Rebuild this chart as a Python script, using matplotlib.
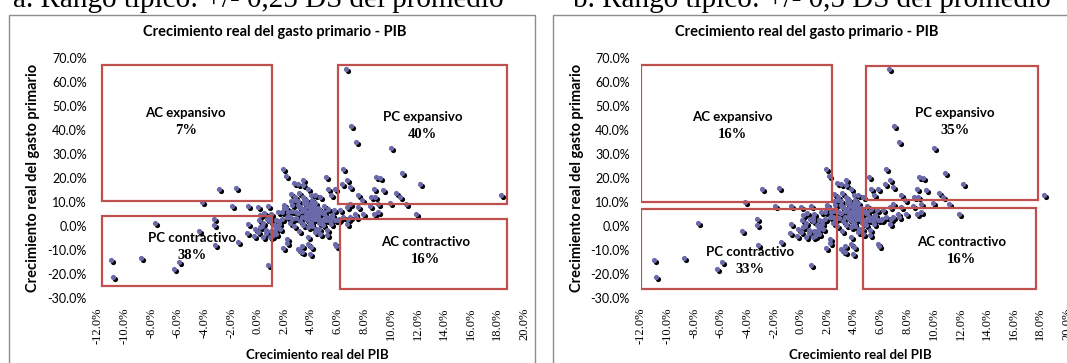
import matplotlib.pyplot as plt
from matplotlib.patches import Rectangle
from matplotlib.ticker import FuncFormatter
from matplotlib.transforms import offset_copy

# crecimiento real del PIB (%) y del gasto primario (%), un punto por pais-año
pib = [
    -11.0, -10.9, -8.8, -7.7, -6.3, -5.9, -4.4, -4.2, -3.3, -3.3,
    -3.2, -2.9, -1.6, -1.9, -1.5, -0.7, 0.0, 0.8, -0.7, -0.8,
    -0.3, 0.4, 0.1, 0.8, 1.2, 1.9, 2.1, 1.9, 2.2, 0.3,
    0.6, 0.9, 1.1, 1.4, 1.4, 1.4, 0.2, 0.5, 1.0, 1.6,
    1.7, 1.0, 0.6, -0.2, 0.9, 1.2, 0.0, 0.7, 1.3, 0.4,
    1.8, 1.5, 0.9, 0.2,
    # parte derecha
    6.6, 7.0, 7.4, 10.0, 10.8, 12.2, 18.3, 6.4, 6.7, 5.1,
    8.9, 9.2, 8.7, 9.4, 7.5, 7.8, 10.4, 10.7, 11.1, 9.9,
    11.9, 6.9, 5.8, 3.9, 2.7, 3.0, 3.4, 3.4, 3.8, 4.3,
    4.7, 5.3, 5.5, 5.8, 6.3, 6.9, 8.5, 8.8, 9.0, 7.9,
    8.4, 8.7, 9.0, 7.5, 6.7, 6.2, 6.4, 6.9, 6.7, 7.4,
    5.8, 5.4, 3.2, 2.2, 3.3, 3.8, 4.7, 5.2, 3.0, 3.3,
    4.0, 5.9, 3.8, 7.3, 6.8, 5.7, 5.0, 5.2,
    # nucleo denso
    2.3, 2.5, 2.8, 3.0, 3.1, 3.3, 3.5, 3.6, 3.7, 3.9,
    4.0, 4.1, 4.2, 4.3, 4.4, 4.5, 4.6, 4.8, 4.9, 5.0,
    2.4, 2.6, 2.9, 3.2, 3.4, 3.6, 3.8, 4.0, 4.1, 4.3,
    4.4, 4.6, 4.7, 4.9, 5.1, 2.0, 2.2, 2.5, 2.7, 3.1,
    3.5, 3.9, 4.2, 4.5, 4.8, 5.3, 5.6, 6.0, 3.6, 3.9,
    4.1, 4.3, 4.5, 3.7, 4.0, 4.2, 4.4, 3.4, 3.1, 2.8,
    2.0, 2.4, 1.8, 1.6, 2.6, 3.0, 4.6, 5.0, 5.5, 6.1,
    3.9, 4.1, 4.3, 4.0, 4.2, 3.8, 4.4, 4.6, 3.5, 3.7,
    4.0, 4.2, 3.3, 2.9, 4.7, 5.1, 3.2, 2.6, 4.8, 3.6,
    4.1, 3.9, 4.3, 2.3, 5.4, 4.5, 3.4, 2.1, 5.6, 3.0,
]
gasto = [
    -14.1, -21.3, -13.2, 1.4, -17.8, -14.8, -2.1, 10.0, 2.9, 0.6,
    -7.8, 15.5, 15.8, 8.4, -6.7, 8.4, 8.0, 8.4, 1.0, -2.9,
    -4.2, -4.6, 2.7, -16.4, -3.2, 24.0, 21.0, -9.2, -7.0, 0.0,
    -1.5, 2.0, -4.0, 2.4, -0.4, -3.2, 4.5, 5.5, -2.0, 1.0,
    -1.0, 5.0, -3.0, -1.0, 3.5, 0.5, -2.5, 3.0, -1.8, 1.5,
    3.0, 6.0, -4.5, -0.5,
    65.4, 41.7, 35.1, 32.4, 22.2, 17.4, 12.8, 24.0, 19.4, 20.5,
    20.5, 20.0, 15.6, 15.2, 12.8, 10.8, 13.8, 12.1, 9.1, 9.6,
    5.2, 9.1, -7.4, -11.6, 18.0, 17.5, 19.4, 17.1, 15.6, 12.8,
    12.1, 15.6, 12.8, 15.6, 17.7, 16.3, 12.1, 12.1, 9.4, 4.9,
    8.2, 4.9, 5.9, 8.0, 8.0, 6.6, 3.8, 3.8, 1.0, 3.8,
    2.4, 3.8, -10.2, -5.3, -8.1, -7.4, -3.2, -3.9, -9.5, -10.9,
    -8.8, -8.1, -4.6, 5.2, 3.1, 6.6, 5.9, -1.8,
    5.9, 13.6, 12.1, 10.5, 8.0, 6.5, 9.5, 11.0, 4.0, 7.5,
    12.8, 5.0, 9.0, 6.0, 3.0, 4.5, 7.0, 2.0, 5.5, 8.5,
    1.5, 9.0, 3.5, 2.0, 0.5, 3.0, -0.5, 1.0, 10.0, 3.5,
    -1.0, 1.5, 6.5, 0.5, 2.5, 7.5, 4.0, 10.5, 0.0, -2.0,
    11.5, 6.0, 8.0, 4.5, 2.5, 7.0, 4.0, 2.5, 5.0, 6.5,
    0.0, -2.5, -1.5, 8.5, 9.5, 3.0, 7.0, 1.0, 14.0, 11.0,
    9.0, 4.0, 6.0, 2.0, 6.5, 9.0, -1.0, 5.5, 1.0, 3.0,
    5.0, 3.5, 6.0, 8.5, 5.5, 2.5, 4.5, 3.0, 7.0, 6.0,
    1.5, 7.5, 4.0, 6.0, 6.5, 4.0, 8.0, 3.0, 1.0, 10.0,
    11.0, 1.0, 9.5, 4.0, 2.0, 7.5, 12.0, 7.5, 4.5, 5.5,
]

x_ticks = [-12, -10, -8, -6, -4, -2, 0, 2, 4, 6, 8, 10, 12, 14, 16, 18, 20]
y_ticks = [-30, -20, -10, 0, 10, 20, 30, 40, 50, 60, 70]

paneles = ["a. Rango típico: +/- 0,25 DS del promedio",
           "b. Rango típico: +/- 0,5 DS del promedio"]

# cuadrantes: (nombre, porcentaje, x0, x1, y0, y1, x texto, y texto)
cuadros_a = [
    ("AC expansivo", "7%", -11.7, 1.05, 10.5, 67.4, -5.4, 47.4),
    ("PC contractivo", "38%", -11.7, 1.05, -24.8, 4.2, -4.9, -4.9),
    ("PC expansivo", "40%", 6.05, 18.7, 9.4, 67.4, 12.4, 45.4),
    ("AC contractivo", "16%", 6.2, 18.7, -26.2, 2.8, 12.6, -6.7),
]
cuadros_b = [
    ("AC expansivo", "16%", -12.0, 2.35, 10.0, 67.2, -5.1, 45.4),
    ("PC contractivo", "33%", -12.0, 2.7, -26.2, 7.0, -3.8, -10.9),
    ("PC expansivo", "35%", 4.9, 17.8, 11.0, 66.9, 11.6, 47.3),
    ("AC contractivo", "16%", 4.7, 17.7, -26.2, 7.5, 12.1, -6.7),
]

SANS = ["Lato", "DejaVu Sans"]
SERIF = ["Liberation Serif", "DejaVu Serif"]
ROJO = "#c0504d"
PUNTO = "#6a6aaa"

W, H = 1067, 363
fig = plt.figure(figsize=(W / 100, H / 100), dpi=100)

# (borde izq, borde der, eje izq px, centro titulo, centro ylabel, centro xlabel, x caption)
layout = [
    (9, 535, 98, 275, 33, 317, 13),
    (553, 1200, 641, 807, 577, 860, 573),
]

for k, (cuadros, lay) in enumerate(zip([cuadros_a, cuadros_b], layout)):
    b0, b1, ax_left, t_cx, yl_cx, xl_cx, cap_x = lay

    fig.patches.append(Rectangle((b0 / W, -0.2), (b1 - b0) / W, 1.2 - 15 / H,
                                 transform=fig.transFigure, fill=False,
                                 edgecolor="#8c8c8c", linewidth=1.0))
    fig.text(cap_x / W, 1 - 7 / H, paneles[k], family=SERIF, fontsize=21,
             va="baseline", ha="left")
    fig.text(t_cx / W, 1 - 32 / H, "Crecimiento real del gasto primario - PIB",
             family=SANS, fontweight="bold", fontsize=10.5, ha="center", va="center")
    fig.text(yl_cx / W, 1 - 178 / H, "Crecimiento real del gasto primario",
             family=SANS, fontweight="bold", fontsize=10.5, rotation=90,
             ha="center", va="center")
    fig.text(xl_cx / W, 1 - 355 / H, "Crecimiento real del PIB",
             family=SANS, fontweight="bold", fontsize=9.5, ha="center", va="center")

    ax = fig.add_axes([ax_left / W, 1 - 298 / H, 426 / W, (298 - 58.4) / H])
    ax.set_xlim(-12, 20)
    ax.set_ylim(-30, 70)
    for s in ax.spines.values():
        s.set_visible(False)
    ax.set_xticks(x_ticks)
    ax.set_yticks(y_ticks)
    ax.xaxis.set_major_formatter(FuncFormatter(lambda v, p: f"{v:.1f}%"))
    ax.yaxis.set_major_formatter(FuncFormatter(lambda v, p: f"{v:.1f}%"))
    ax.tick_params(length=0)
    ax.tick_params(axis="y", pad=8)
    ax.tick_params(axis="x", pad=7)
    for lbl in ax.get_yticklabels():
        lbl.set_family(SANS)
        lbl.set_fontsize(9)
    for lbl in ax.get_xticklabels():
        lbl.set_family(SERIF)
        lbl.set_fontsize(9)
        lbl.set_rotation(90)

    # sombra negra desplazada y punto azul encima
    sombra = offset_copy(ax.transData, fig=fig, x=2, y=-2, units="dots")
    ax.scatter(pib, gasto, s=14, color="black", linewidths=0,
               transform=sombra, zorder=2)
    ax.scatter(pib, gasto, s=14, color=PUNTO, linewidths=0, zorder=3)

    for nombre, pct, x0, x1, y0, y1, tx, ty in cuadros:
        ax.add_patch(Rectangle((x0, y0), x1 - x0, y1 - y0, fill=False,
                               edgecolor=ROJO, linewidth=1.6, zorder=4))
        ax.text(tx, ty, nombre, family=SANS, fontweight="bold", fontsize=9.5,
                ha="center", va="center", zorder=5)
        ax.text(tx, ty - 7.3, pct, family=SERIF, fontweight="bold", fontsize=10.5,
                ha="center", va="center", zorder=5)

fig.savefig("out.png", dpi=100)
